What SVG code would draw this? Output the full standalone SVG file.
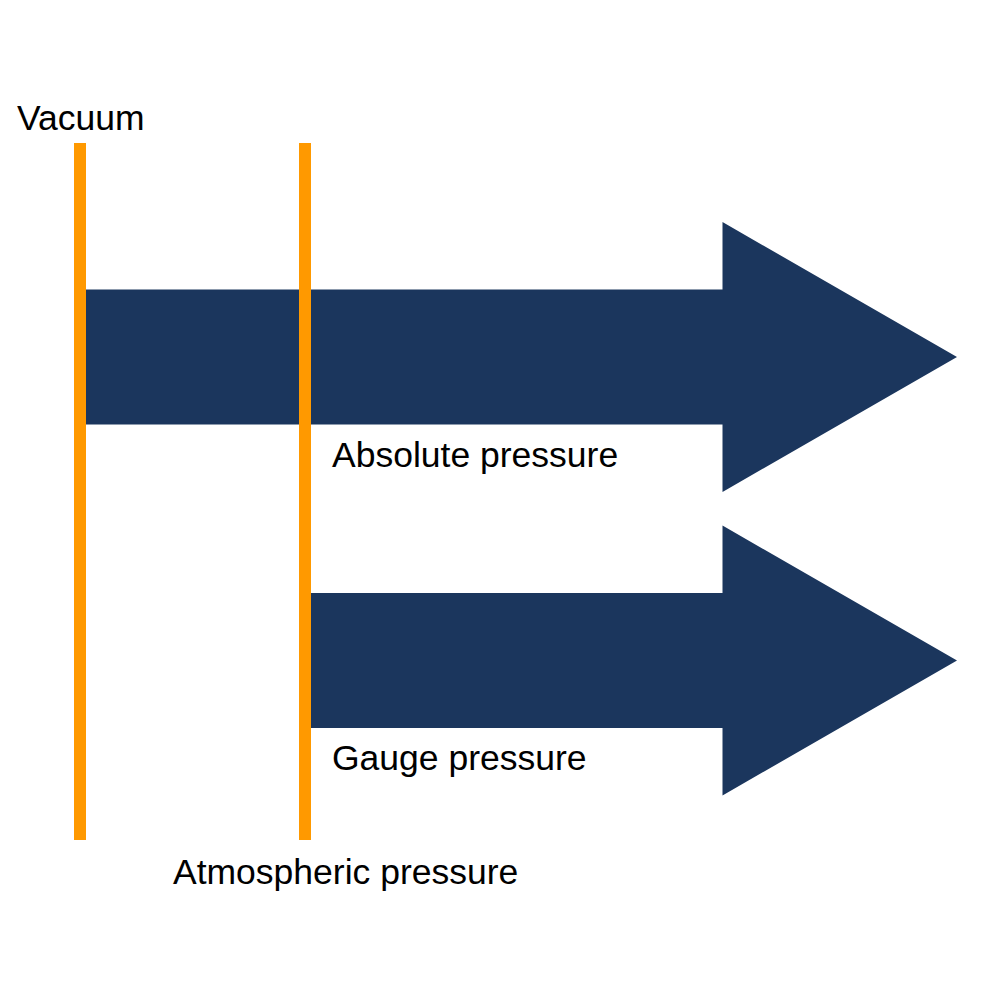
<svg xmlns="http://www.w3.org/2000/svg" width="992" height="992" viewBox="0 0 992 992">
<style>
.arrow{fill:#1B365D}
.line{fill:#FF9900}
.lbl{font-family:"Liberation Sans",Arial,sans-serif;font-size:35.5px;fill:#000}
</style>
<rect width="992" height="992" fill="#fff"/>
<g id="absolute-arrow">
<polygon class="arrow" points="86,289.5 722.5,289.5 722.5,222 957,357 722.5,492 722.5,424.5 86,424.5"/>
</g>
<g id="gauge-arrow">
<polygon class="arrow" points="311,593 722.5,593 722.5,525.5 957,660.5 722.5,795.5 722.5,728 311,728"/>
</g>
<g id="vacuum-line">
<rect class="line" x="74" y="143" width="12" height="697"/>
</g>
<g id="atmospheric-line">
<rect class="line" x="299" y="143" width="12" height="697"/>
</g>
<g id="labels">
<text class="lbl" x="17" y="130">Vacuum</text>
<text class="lbl" x="332" y="467">Absolute pressure</text>
<text class="lbl" x="332" y="770">Gauge pressure</text>
<text class="lbl" x="173" y="884">Atmospheric pressure</text>
</g>
</svg>
